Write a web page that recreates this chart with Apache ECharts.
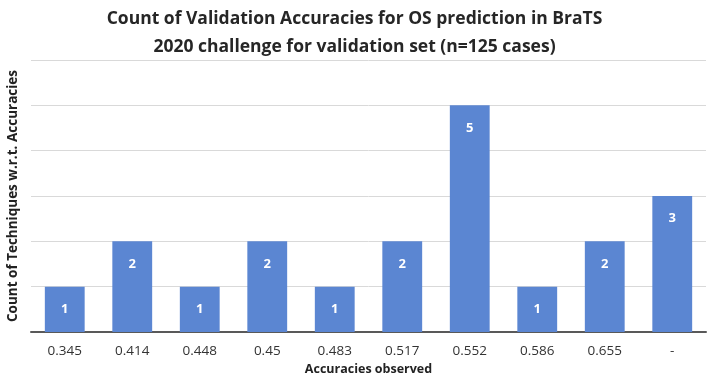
<!DOCTYPE html>
<html>
<head>
<meta charset="utf-8">
<script src="https://cdn.jsdelivr.net/npm/echarts@6/dist/echarts.min.js"></script>
<style>
  html, body { margin: 0; padding: 0; background: #fff; }
  #main { width: 709px; height: 376px; }
</style>
</head>
<body>
<div id="main"></div>
<script>
// donnees
const categories = ['0.345', '0.414', '0.448', '0.45', '0.483', '0.517', '0.552', '0.586', '0.655', '-'];
const counts = [1, 2, 1, 2, 1, 2, 5, 1, 2, 3];

const chart = echarts.init(document.getElementById('main'), null, { renderer: 'canvas' });

const option = {
  animation: false,
  title: {
    text: 'Count of Validation Accuracies for OS prediction in BraTS\n2020 challenge for validation set (n=125 cases)',
    left: 'center',
    top: 0,
    textStyle: {
      fontFamily: 'Open Sans',
      fontWeight: 'bold',
      fontSize: 17.5,
      lineHeight: 28,
      color: '#262626'
    }
  },
  grid: { left: 31, right: 3, top: 60, bottom: 44, containLabel: false, outerBoundsMode: 'none' },
  xAxis: {
    type: 'category',
    data: categories,
    name: 'Accuracies observed',
    nameLocation: 'middle',
    nameGap: 31,
    nameTextStyle: { fontFamily: 'Open Sans', fontWeight: 'bold', fontSize: 12.5, color: '#222' },
    axisLine: { lineStyle: { color: '#595959', width: 2 } },
    axisTick: { show: false },
    axisLabel: { fontFamily: 'Open Sans', fontSize: 13.5, color: '#333', margin: 12 }
  },
  yAxis: {
    type: 'value',
    min: 0,
    max: 6,
    interval: 1,
    name: 'Count of Techniques w.r.t. Accuracies',
    nameLocation: 'middle',
    nameGap: 11,
    nameTextStyle: { fontFamily: 'Open Sans', fontWeight: 'bold', fontSize: 13.5, color: '#222' },
    axisLabel: { show: false },
    axisLine: { show: false },
    axisTick: { show: false },
    splitLine: { lineStyle: { color: '#d9d9d9', width: 1 } }
  },
  series: [
    {
      name: 'Count',
      type: 'bar',
      data: counts,
      barCategoryGap: '41%',
      itemStyle: { color: '#5b86d2' },
      label: {
        show: true,
        position: 'insideTop',
        distance: 16,
        fontFamily: 'Open Sans',
        fontWeight: 'bold',
        fontSize: 13,
        color: '#fff'
      }
    }
  ]
};

chart.setOption(option);

window.addEventListener('resize', () => {
  chart.resize();
});
</script>
</body>
</html>
